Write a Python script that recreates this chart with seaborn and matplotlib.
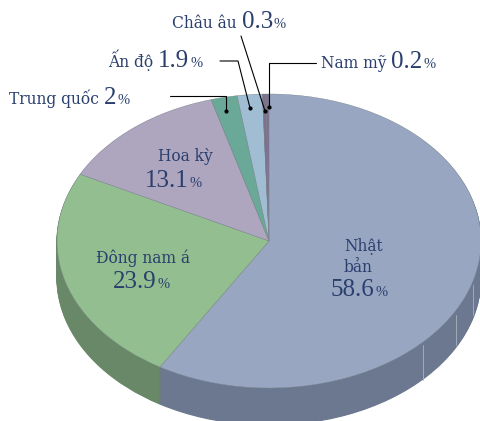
import matplotlib
matplotlib.use("Agg")
from matplotlib import pyplot as plt
import seaborn as sns

regions = ["Nhật bản", "Đông nam á", "Hoa kỳ", "Trung quốc", "Ấn độ", "Châu âu", "Nam mỹ"]
shares = [58.6, 23.9, 13.1, 2, 1.9, 0.3, 0.2]
top_colors = ["#98A6C2", "#93BE8F", "#AEA5BF", "#6AA897", "#A0BDD4", "#7D7090", "#7D7090"]
wall_colors = ["#6C788F", "#688868", "#7C758A", "#4C786C", "#728798", "#595066", "#595066"]

W, H = 481, 421
cx, cy = 269, 241
rx, ry = 212, 147
depth = 37
ink = "#2A3F6E"
name_font = "DejaVu Serif"
num_font = "Liberation Serif"

sns.set_theme(style="white")
plt.rcParams["font.family"] = ["Liberation Serif", "DejaVu Serif"]

fig = plt.figure(figsize=(W / 100, H / 100), dpi=100)
ax = fig.add_axes([0, 0, 1, 1])

# side wall is just the same pie stacked downwards
for d in range(depth, 0, -1):
    wedges, _ = ax.pie(shares, colors=wall_colors, startangle=90, counterclock=False,
                       center=(0, -d / ry), radius=1)
    for w in wedges:
        w.set_edgecolor(w.get_facecolor())
        w.set_linewidth(0.8)
ax.pie(shares, colors=top_colors, startangle=90, counterclock=False, radius=1,
       wedgeprops={"linewidth": 0.3, "edgecolor": "#7F8A90"})
ax.set_aspect("auto")
ax.set_xlim(-cx / rx, (W - cx) / rx)
ax.set_ylim((cy - H) / ry, cy / ry)
ax.axis("off")

# overlay in pixel coordinates for labels and leaders
ov = fig.add_axes([0, 0, 1, 1])
ov.set_xlim(0, W)
ov.set_ylim(H, 0)
ov.axis("off")
ov.patch.set_alpha(0)
rend = fig.canvas.get_renderer()


def px(s):
    return s * 0.72


def end_x(t):
    # window pixels line up with overlay x because the axes fills the figure
    return t.get_window_extent(rend).x1


def number(x, y, val, size=25):
    t = ov.text(x, y, val, fontsize=px(size), color=ink, family=num_font, va="baseline")
    ov.text(end_x(t) + 1, y, "%", fontsize=px(14.5), color=ink, family=num_font, va="baseline")


def name(x, y, txt, size=15.5):
    return ov.text(x, y, txt, fontsize=px(size), color=ink, family=name_font, va="baseline")


def label(x, y, txt, val):
    t = name(x, y, txt)
    number(end_x(t) + 5, y, val)


label(172, 28, "Châu âu", "0.3")
label(108, 67, "Ấn độ", "1.9")
label(321, 68, "Nam mỹ", "0.2")
label(9, 104, "Trung quốc", "2")

name(158, 161, "Hoa kỳ")
number(145, 187, "13.1")
name(96, 263, "Đông nam á")
number(113, 288, "23.9")
name(344, 251, "Nhật")
name(344, 272, "bản")
number(331, 296, "58.6")

leaders = [
    ([170, 226, 226], [96, 96, 111]),
    ([220, 238, 250], [61, 61, 108]),
    ([241, 265], [36, 111]),
    ([316, 269, 269], [63, 63, 107]),
]
for xs, ys in leaders:
    ov.plot(xs, ys, color="black", lw=0.8)
    ov.plot(xs[-1], ys[-1], "o", color="black", ms=2)

# faint seams on the wall
for x, y0, y1 in [(423, 345, 380), (456, 315, 345), (473, 285, 315)]:
    ov.plot([x, x], [y0, y1], color="#A9B2C2", lw=0.6)
ov.set_xlim(0, W)
ov.set_ylim(H, 0)

fig.savefig("out.png", dpi=100)
